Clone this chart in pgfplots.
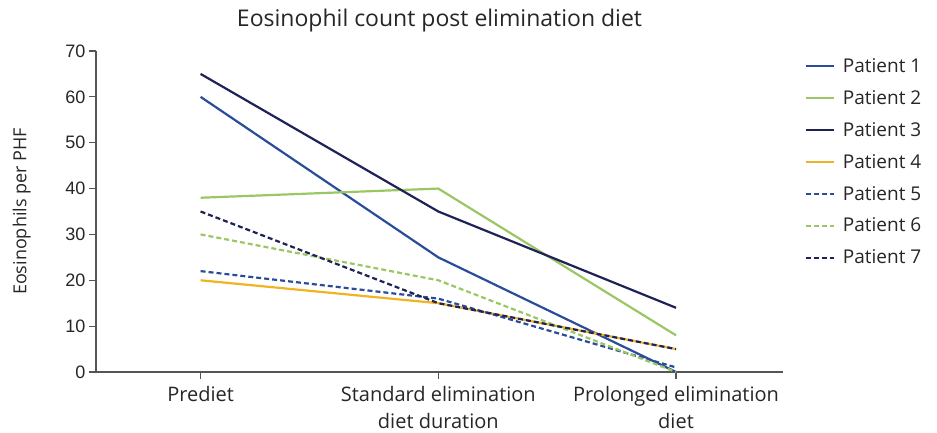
\documentclass[border=0pt]{standalone}
\usepackage{pgfplots}
\pgfplotsset{compat=1.18}
\usepackage{fontspec}
\setmainfont{Open Sans}
\newfontfamily\arialfont{Liberation Sans}

\definecolor{pblue}{HTML}{2B4C9B}
\definecolor{pgreen}{HTML}{9BC763}
\definecolor{pnavy}{HTML}{1F2257}
\definecolor{porange}{HTML}{F0B323}
\definecolor{axisgray}{HTML}{555555}

\begin{document}
\begin{tikzpicture}
\path[use as bounding box] (-96bp,-61bp) rectangle (841bp,372bp);
\begin{axis}[
  at={(0,0)}, anchor=south west,
  scale only axis,
  width=687bp, height=321bp,
  xmin=-0.44, xmax=2.45,
  ymin=0, ymax=70,
  ytick={0,10,...,70},
  xtick={0,1,2},
  xticklabels={Prediet, {Standard elimination\\diet duration}, {Prolonged elimination\\diet}},
  xticklabel style={align=center, font=\fontsize{20bp}{27bp}\selectfont, text=black!85, yshift=-4bp},
  yticklabel style={font=\arialfont\fontsize{18bp}{20bp}\selectfont, text=black!85},
  /pgf/number format/assume math mode=true,
  axis x line=bottom, axis y line=left,
  axis line style={-, axisgray, line width=1.2bp},
  tick style={axisgray, line width=1.2bp},
  tick align=outside,
  major tick length=7bp,
  xtick pos=bottom, ytick pos=left,
  ylabel={Eosinophils per PHF},
  ylabel style={font=\fontsize{18bp}{22bp}\selectfont, text=black!85,
    at={(axis description cs:-0.108,0.5)}, anchor=center},
  title={Eosinophil count post elimination diet},
  title style={font=\fontsize{23bp}{26bp}\selectfont, text=black!85, yshift=9bp},
  legend style={draw=none, at={(1.027,0.99)}, anchor=north west,
    font=\fontsize{19bp}{22bp}\selectfont, row sep=12.5bp, text=black!85,
    /tikz/every odd column/.append style={column sep=6bp}},
  legend cell align=left,
  legend image code/.code={\draw[#1] (0bp,0bp) -- (28bp,0bp);},
  every axis plot/.append style={line width=2.2bp, no markers},
  clip=false,
]
\addplot[pblue] coordinates {(0,60) (1,25) (2,0)};
\addlegendentry{Patient 1}
\addplot[pgreen] coordinates {(0,38) (1,40) (2,8)};
\addlegendentry{Patient 2}
\addplot[pnavy] coordinates {(0,65) (1,35) (2,14)};
\addlegendentry{Patient 3}
\addplot[porange] coordinates {(0,20) (1,15) (2,5)};
\addlegendentry{Patient 4}
\addplot[pblue, dash pattern=on 5bp off 3bp] coordinates {(0,22) (1,16) (2,1)};
\addlegendentry{Patient 5}
\addplot[pgreen, dash pattern=on 5bp off 3bp] coordinates {(0,30) (1,20) (2,0)};
\addlegendentry{Patient 6}
\addplot[pnavy, dash pattern=on 5bp off 3bp] coordinates {(0,35) (1,15) (2,5)};
\addlegendentry{Patient 7}
\end{axis}
\end{tikzpicture}
\end{document}
